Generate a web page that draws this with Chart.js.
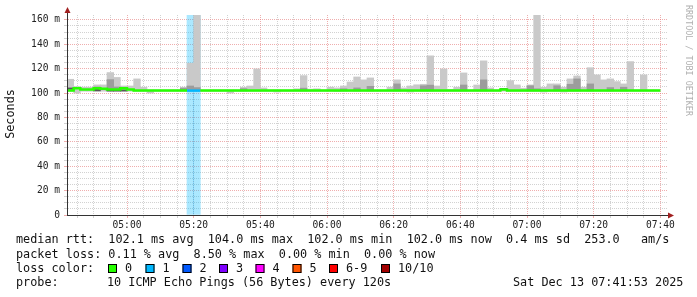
<!DOCTYPE html>
<html><head><meta charset="utf-8">
<style>html,body{margin:0;padding:0;background:#fff;overflow:hidden}#wrap{width:697px;height:297px}</style>
<script src="https://cdn.jsdelivr.net/npm/chart.js@4.4.1/dist/chart.umd.min.js"></script>
</head><body><div id="wrap"><canvas id="c" width="697" height="297"></canvas></div>
<script>
// ---- data (2-minute steps) ----
const stepStarts = ('04:42 04:44 04:46 04:48 04:50 04:52 04:54 04:56 04:58 ' +
  '05:00 05:02 05:04 05:06 05:08 05:10 05:12 05:14 05:16 05:18 05:20 05:22 05:24 05:26 05:28 05:30 05:32 05:34 05:36 05:38 05:40 05:42 05:44 05:46 05:48 05:50 05:52 05:54 05:56 05:58 ' +
  '06:00 06:02 06:04 06:06 06:08 06:10 06:12 06:14 06:16 06:18 06:20 06:22 06:24 06:26 06:28 06:30 06:32 06:34 06:36 06:38 06:40 06:42 06:44 06:46 06:48 06:50 06:52 06:54 06:56 06:58 ' +
  '07:00 07:02 07:04 07:06 07:08 07:10 07:12 07:14 07:16 07:18 07:20 07:22 07:24 07:26 07:28 07:30 07:32 07:34 07:36 07:38').split(' ');
const STEP_MIN = 2;

const medianRtt = [
  102, 104, 103, 103, 104, 103.5, 103, 103, 104, 103,
  102, 102, 102, 102, 102, 102, 102, 102, 102, 102,
  102, 102, 102, 102, 102, 102, 102, 102, 102, 102,
  102, 102, 102, 102, 102, 102, 102, 102, 102, 102,
  102, 102, 102, 102, 102, 102, 102, 102, 102, 102,
  102, 102, 102, 102, 102, 102, 102, 102, 102, 102,
  102, 102, 102, 102, 102, 103, 102, 102, 102, 102,
  102, 102, 102, 102, 102, 102, 102, 102, 102, 102,
  102, 102, 102, 102, 102, 102, 102, 102, 102];

const smokeMin = [
  101.5, 100, 101.5, 101.5, 101.5, 101.5, 101.5, 101.5, 101.5, 101.5,
  101.5, 101.5, 100, 101.5, 101.5, 101.5, 101.5, 101.5, 101.5, 101.5,
  101.5, 101.5, 101.5, 101.5, 100, 101.5, 101.5, 101.5, 101.5, 101.5,
  101.5, 100.8, 101.5, 101.5, 101.5, 101.5, 101.5, 101.5, 101.5, 101.5,
  101.2, 101.5, 101.5, 101.5, 101.5, 101.5, 101.5, 101.5, 101.5, 101.5,
  101.5, 100.8, 101.5, 101.5, 101.5, 101.5, 101.5, 101.5, 101.5, 101.5,
  101.5, 101.5, 101.5, 101.5, 101.5, 101.5, 101.5, 101.5, 101.5, 101.5,
  101.5, 100.8, 101.5, 101.5, 100.8, 101.5, 101.5, 101.5, 101.5, 101.5,
  101.5, 101.5, 101.5, 101.5, 101.5, 101.5, 101.5, 101.5, 101.5];

const smokeMax = [
  111.3, 105.3, 104.8, 104.8, 106.7, 106.7, 116.8, 112.8, 105.8, 105.8,
  111.6, 104.8, 102.5, 102.5, 102.5, 102.5, 102.5, 104.8, 124.5, 175,
  102.5, 102.5, 102.5, 102.5, 102.5, 102.5, 104.8, 105.8, 119.8, 104.2,
  102.5, 102.5, 102.5, 102.5, 103.5, 114.3, 103.2, 103.5, 102.5, 104.8,
  104.2, 105.8, 109.1, 113.2, 110.8, 112.4, 102.5, 102.5, 104.8, 110.8,
  104.2, 105.8, 106.8, 107.2, 130.5, 105.8, 119.8, 103, 104.8, 116.5,
  102.5, 106.6, 126.4, 104.2, 102.5, 103.6, 110.2, 106.7, 104, 106.7,
  175, 104.8, 107.5, 107.5, 104.8, 111.6, 114, 104.8, 120.8, 114.9,
  110.8, 111.6, 109.4, 107.5, 125.8, 102.5, 114.9, 102.5, 102.5];

// inner (denser) smoke band
const innerIdx = [4, 6, 7, 17, 18, 19, 26, 35, 41, 43, 45, 49, 53, 54, 59, 62, 69, 70, 73, 75, 76, 78, 81, 83];
const innerLow = [101.8, 101.8, 101.8, 101.8, 101.8, 101.8, 101.8, 101.8, 101.8, 101.8, 101.8, 101.8,
                  101.8, 101.8, 101.8, 101.8, 101.8, 101.8, 101.8, 101.8, 101.8, 101.8, 101.8, 101.8];
const innerHigh = [105, 111, 105, 104, 105.8, 104.5, 103.6, 104, 103.5, 104.2, 105.5, 107.5,
                   106, 106.5, 106.6, 110.8, 106, 103.5, 106, 107.2, 111.6, 107.5, 104.5, 104.8];

// darkest core of the smoke
const coreIdx = [0, 4, 6, 7, 8, 65];
const coreLow = [103, 101.8, 101.6, 101.6, 101.6, 102.9];
const coreHigh = [104.2, 102.9, 102.4, 102.4, 102.6, 103.7];

// packet loss (pings lost out of 10)
const lossIdx = [18, 19];
const lossPings = [1, 1];

const xTickLabels = ['05:00', '05:20', '05:40', '06:00', '06:20', '06:40', '07:00', '07:20', '07:40'];
const yTickLabels = ['0', '20 m', '40 m', '60 m', '80 m', '100 m', '120 m', '140 m', '160 m'];
const X_MIN = '04:42', X_MAX = '07:42', Y_MAX = 164;

const lossLegend = ['0', '1', '2', '3', '4', '5', '6-9', '10/10'];
const lossColors = ['#26ff00', '#00b8ff', '#0059ff', '#7e00ff', '#ff00ff', '#ff5500', '#ff0000', '#a10000'];
const lossBg = ['rgba(38,255,0,0.33)', 'rgba(0,184,255,0.33)', 'rgba(0,89,255,0.33)', 'rgba(126,0,255,0.33)',
                'rgba(255,0,255,0.33)', 'rgba(255,85,0,0.33)', 'rgba(255,0,0,0.33)', 'rgba(161,0,0,0.33)'];
function lossClass(n) { return n <= 5 ? n : (n >= 10 ? 7 : 6); }

const legendLines = [
  'median rtt:  102.1 ms avg  104.0 ms max  102.0 ms min  102.0 ms now  0.4 ms sd  253.0   am/s',
  'packet loss: 0.11 % avg  8.50 % max  0.00 % min  0.00 % now'
];
const probeText = ['probe:', '10 ICMP Echo Pings (56 Bytes) every 120s'];
const dateText = 'Sat Dec 13 07:41:53 2025';

// ---- helpers ----
const toMin = s => { const [h, m] = s.split(':').map(Number); return h * 60 + m; };
const xMajor = xTickLabels.map(toMin);
const yMajor = yTickLabels.map(l => parseFloat(l));
const xGrid = []; for (let v = xMajor[0] - 15; v <= toMin(X_MAX); v += 5) if (v > toMin(X_MIN)) xGrid.push(v);
const yGrid = []; for (let v = 0; v <= yMajor[yMajor.length - 1]; v += 5) yGrid.push(v);
const mid = i => toMin(stepStarts[i]) + STEP_MIN / 2;

const lightData = stepStarts.map((s, i) => ({ x: mid(i), y: [smokeMin[i], smokeMax[i]] }));
const innerData = innerIdx.map((i, k) => ({ x: mid(i), y: [innerLow[k], innerHigh[k]] }));
const coreData = coreIdx.map((i, k) => ({ x: mid(i), y: [coreLow[k], coreHigh[k]] }));
const lossData = lossIdx.map((i, k) => ({ x: mid(i), y: [0, Y_MAX], c: lossBg[lossClass(lossPings[k])] }));
const lossAt = stepStarts.map(() => 0); lossIdx.forEach((i, k) => lossAt[i] = lossPings[k]);
const medData = stepStarts.map((s, i) => ({ x: toMin(s), y: medianRtt[i] }));
medData.push({ x: toMin(stepStarts[stepStarts.length - 1]) + STEP_MIN, y: medianRtt[medianRtt.length - 1] });

const MONO = '"DejaVu Sans Mono", monospace';
const MAJOR = 'rgba(228,120,120,0.6)', MINOR = 'rgba(165,165,165,0.5)';

const barCommon = { type: 'bar', grouped: false, barPercentage: 1, categoryPercentage: 1, borderWidth: 0 };

const textPlugin = {
  id: 'rrdtext',
  afterDatasetsDraw(chart) {
    const ctx = chart.ctx, a = chart.chartArea;
    ctx.save();
    ctx.strokeStyle = '#333'; ctx.lineWidth = 1;
    ctx.beginPath();
    ctx.moveTo(a.left + 0.5, a.bottom + 0.5); ctx.lineTo(a.left + 0.5, a.top - 3);
    ctx.moveTo(a.left, a.bottom + 0.5); ctx.lineTo(a.right + 3, a.bottom + 0.5);
    ctx.stroke();
    ctx.fillStyle = '#a12020';
    ctx.beginPath(); ctx.moveTo(a.left + 0.5, a.top - 8); ctx.lineTo(a.left - 2.5, a.top - 2); ctx.lineTo(a.left + 3.5, a.top - 2); ctx.closePath(); ctx.fill();
    ctx.beginPath(); ctx.moveTo(a.right + 7, a.bottom + 0.5); ctx.lineTo(a.right + 1, a.bottom - 2.5); ctx.lineTo(a.right + 1, a.bottom + 3.5); ctx.closePath(); ctx.fill();
    ctx.restore();
  },
  afterDraw(chart) {
    const ctx = chart.ctx;
    ctx.save();
    ctx.fillStyle = '#111';
    ctx.font = '11.8px ' + MONO;
    ctx.textBaseline = 'middle';
    ctx.fillText(legendLines[0], 16, 240);
    ctx.fillText(legendLines[1], 16, 254.5);
    ctx.fillText('loss color:', 16, 268.5);
    const boxX = [108, 145.5, 182.5, 219, 255.5, 292.5, 329, 381];
    lossLegend.forEach((l, k) => {
      ctx.fillStyle = lossColors[k];
      ctx.fillRect(boxX[k], 264, 9, 9);
      ctx.strokeStyle = '#000'; ctx.lineWidth = 1;
      ctx.strokeRect(boxX[k] + 0.5, 264.5, 8, 8);
      ctx.fillStyle = '#111';
      ctx.fillText(l, boxX[k] + 17, 268.5);
    });
    ctx.fillText(probeText[0], 16, 282.5);
    ctx.fillText(probeText[1], 107, 282.5);
    ctx.fillText(dateText, 513, 282.5);
    // y title
    ctx.save();
    ctx.translate(11, 114); ctx.rotate(-Math.PI / 2);
    ctx.textAlign = 'center';
    ctx.fillText('Seconds', 0, 0);
    ctx.restore();
    // watermark
    ctx.save();
    ctx.translate(688, 5); ctx.rotate(Math.PI / 2);
    ctx.font = '8.4px ' + MONO; ctx.fillStyle = '#b0b0b0';
    ctx.textAlign = 'left';
    ctx.fillText('RRDTOOL / TOBI OETIKER', 0, 0);
    ctx.restore();
    ctx.restore();
  }
};

new Chart(document.getElementById('c'), {
  type: 'bar',
  data: {
    datasets: [
      { type: 'line', label: 'median', data: medData, order: 0, stepped: 'before', borderWidth: 2.5,
        pointRadius: 0, borderColor: lossColors[0], borderCapStyle: 'butt', fill: false,
        segment: { borderColor: c => lossColors[lossClass(lossAt[c.p0DataIndex] || 0)] } },
      Object.assign({ label: 'core', data: coreData, order: 1, backgroundColor: '#585858' }, barCommon),
      Object.assign({ label: 'inner', data: innerData, order: 2, backgroundColor: '#9c9c9c' }, barCommon),
      Object.assign({ label: 'smoke', data: lightData, order: 3, backgroundColor: '#c9c9c9' }, barCommon),
      Object.assign({ label: 'loss', data: lossData, order: 4, backgroundColor: c => (c.raw && c.raw.c) || lossBg[1] }, barCommon)
    ]
  },
  options: {
    responsive: false, animation: false, devicePixelRatio: 1,
    layout: { padding: { left: 0, top: 15, right: 30, bottom: 62 } },
    plugins: { legend: { display: false }, tooltip: { enabled: false } },
    scales: {
      x: {
        type: 'linear', position: 'bottom', min: toMin(X_MIN), max: toMin(X_MAX), offset: false,
        afterBuildTicks: s => { s.ticks = xGrid.map(v => ({ value: v })); },
        afterFit: s => { s.height = 20; },
        grid: { offset: false, color: c => (c.tick && xMajor.includes(c.tick.value)) ? MAJOR : MINOR, lineWidth: 1,
                drawTicks: true, tickLength: 3, borderDash: [1, 1] },
        border: { display: true, color: '#333', width: 1, dash: [1, 1] },
        ticks: { autoSkip: false, maxRotation: 0, minRotation: 0, padding: 2, color: '#222',
                 font: { family: MONO, size: 9.6 },
                 callback: v => { const k = xMajor.indexOf(v); return k >= 0 ? xTickLabels[k] : ''; } }
      },
      y: {
        type: 'linear', min: 0, max: Y_MAX,
        afterBuildTicks: s => { s.ticks = yGrid.map(v => ({ value: v })); },
        afterFit: s => { s.width = 67; },
        grid: { color: c => (c.tick && yMajor.includes(c.tick.value)) ? MAJOR : MINOR, lineWidth: 1,
                drawTicks: true, tickLength: 3, borderDash: [1, 1] },
        border: { display: true, color: '#333', width: 1, dash: [1, 1] },
        ticks: { autoSkip: false, padding: 4, color: '#222', font: { family: MONO, size: 9.6 },
                 callback: v => { const k = yMajor.indexOf(v); return k >= 0 ? yTickLabels[k] : ''; } }
      }
    }
  },
  plugins: [textPlugin]
});
</script>
</body></html>
